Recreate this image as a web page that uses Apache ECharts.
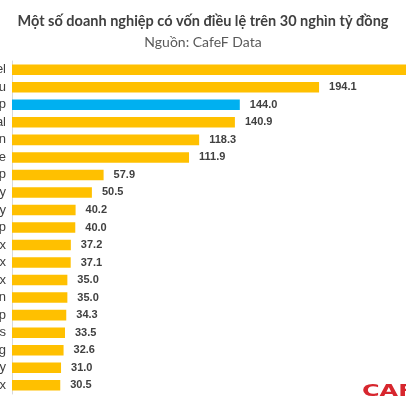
<!DOCTYPE html>
<html><head><meta charset="utf-8">
<script src="https://cdn.jsdelivr.net/npm/echarts@6/dist/echarts.min.js"></script>
<style>html,body{margin:0;padding:0;background:#fff}#c{width:406px;height:406px}</style>
</head><body><div id="c"></div>
<script>
const titleText = "Một số doanh nghiệp có vốn điều lệ trên 30 nghìn tỷ đồng";
const subtitleText = "Nguồn: CafeF Data";
const categories = ["Viettel","Tập đoàn Xăng dầu","Vingroup","Mobifone Global","Vinacomin","Mobifone","Masan Group","Vinamilk Company","PV Power Energy","FLC Group","Petrolimex","Vinatex","Vinaconex","Novaland Corporation","Sun Group","Vietnam Airlines","VPBank Holding","Thaco Company","Lilama Petrolinex"];
const values = [285.0,194.1,144.0,140.9,118.3,111.9,57.9,50.5,40.2,40.0,37.2,37.1,35.0,35.0,34.3,33.5,32.6,31.0,30.5];
const highlightIndex = [2];

const chart = echarts.init(document.getElementById('c'));
chart.setOption({
  animation:false,
  backgroundColor:'#fff',
  title:[
    {text:titleText,left:'center',top:9,textStyle:{fontFamily:'Lato',fontWeight:'bold',fontSize:14.5,color:'#404040'}},
    {text:subtitleText,left:'center',top:30,textStyle:{fontFamily:'Lato',fontWeight:'normal',fontSize:14,color:'#595959'}}
  ],
  grid:{left:12,top:61,height:333,width:474.6,containLabel:false,outerBoundsMode:'none'},
  xAxis:{type:'value',min:0,max:300,show:false},
  yAxis:{type:'category',data:categories,inverse:true,
    axisLine:{show:true,lineStyle:{color:'#d9d9d9',width:1}},
    axisTick:{show:false},
    axisLabel:{margin:6,fontFamily:'Liberation Sans',fontSize:13,color:'#404040'}},
  series:[{type:'bar',barWidth:'60%',
    data:values.map((v,i)=>({value:v,itemStyle:{color:highlightIndex.includes(i)?'#00B0F0':'#FFC000'}})),
    label:{show:true,position:'right',distance:10,formatter:p=>p.value.toFixed(1),fontFamily:'Liberation Sans',fontWeight:'bold',fontSize:11,color:'#404040'}
  }],
  graphic:[{type:'text',x:362,y:385,scaleX:1.6,style:{text:'CAFEF',font:'bold 15px "DejaVu Sans"',fill:'#d7262e'}}]
});
</script></body></html>
